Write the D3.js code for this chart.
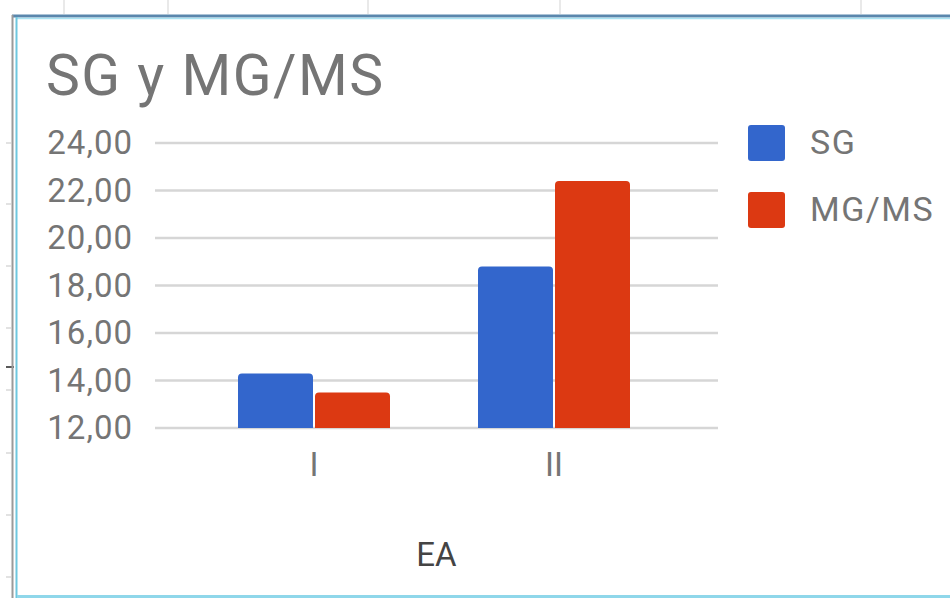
<!DOCTYPE html>
<html>
<head>
<meta charset="utf-8">
<script src="https://cdn.jsdelivr.net/npm/d3@7"></script>
<style>
  html, body { margin: 0; padding: 0; background: #ffffff; }
  svg { display: block; font-family: Roboto, "Noto Sans", sans-serif; }
</style>
</head>
<body>
<svg id="chart" width="950" height="598"></svg>
<script>
// Data
const categories = ["I", "II"];
const seriesNames = ["SG", "MG/MS"];
const sgValues = [14.3, 18.8];
const mgmsValues = [13.5, 22.4];
const yTicks = [12, 14, 16, 18, 20, 22, 24];
const titleText = "SG y MG/MS";
const xAxisTitle = "EA";

const colors = ["#3366cc", "#dc3912"];
const svg = d3.select("#chart");

// Spreadsheet cell lines peeking around the embedded chart
const sheetCols = [64, 168, 368, 560, 861];
svg.selectAll("line.col").data(sheetCols).enter().append("line")
  .attr("x1", d => d).attr("x2", d => d).attr("y1", 0).attr("y2", 14)
  .attr("stroke", "#e2e2e2").attr("stroke-width", 1.5);
const sheetRows = [143, 204, 266, 328, 390, 453, 515, 577];
svg.selectAll("line.row").data(sheetRows).enter().append("line")
  .attr("x1", 6).attr("x2", 11).attr("y1", d => d).attr("y2", d => d)
  .attr("stroke", "#cfcfcf").attr("stroke-width", 1.2);
svg.append("line").attr("x1", 6).attr("x2", 14).attr("y1", 367).attr("y2", 367)
  .attr("stroke", "#222").attr("stroke-width", 1.5);

// Chart frame (selected-object border)
svg.append("line").attr("x1", 12).attr("x2", 950).attr("y1", 16).attr("y2", 16)
  .attr("stroke", "#5a87ad").attr("stroke-width", 3);
svg.append("line").attr("x1", 17).attr("x2", 950).attr("y1", 18.5).attr("y2", 18.5)
  .attr("stroke", "#a9e3f2").attr("stroke-width", 1.5);
svg.append("line").attr("x1", 12.5).attr("x2", 12.5).attr("y1", 15).attr("y2", 598)
  .attr("stroke", "#9a9a9a").attr("stroke-width", 2);
svg.append("line").attr("x1", 16.5).attr("x2", 16.5).attr("y1", 17).attr("y2", 598)
  .attr("stroke", "#6ec7df").attr("stroke-width", 2);
svg.append("line").attr("x1", 17).attr("x2", 950).attr("y1", 596.5).attr("y2", 596.5)
  .attr("stroke", "#8fd7ea").attr("stroke-width", 3);

// Scales
const plotLeft = 155, plotRight = 718;
const y = d3.scaleLinear().domain([12, 24]).range([428, 143]);
const x = d3.scaleBand().domain(categories).range([194, 674]).paddingInner(0).paddingOuter(0);
const inner = d3.scaleBand().domain(seriesNames).range([0, 152]).paddingInner(0.026);
const barOffset = (x.bandwidth() - 152) / 2;

// Title
svg.append("text").attr("x", 46).attr("y", 95)
  .attr("font-size", 57).attr("letter-spacing", 1.5).attr("fill", "#757575").text(titleText);

// Gridlines
svg.append("g").selectAll("line").data(yTicks).enter().append("line")
  .attr("x1", plotLeft).attr("x2", plotRight)
  .attr("y1", d => y(d)).attr("y2", d => y(d))
  .attr("stroke", "#d6d6d6").attr("stroke-width", 2.5);

// Y axis labels
const fmt = d => d3.format(".2f")(d).replace(".", ",");
const yAxis = d3.axisLeft(y).tickValues(yTicks).tickFormat(fmt).tickSize(0).tickPadding(0);
const yg = svg.append("g").attr("transform", "translate(133,0)").call(yAxis);
yg.select(".domain").remove();
yg.selectAll("text").attr("font-size", 33).attr("fill", "#757575")
  .attr("letter-spacing", 1).attr("font-family", "Roboto, sans-serif").attr("dy", "0.32em");

// X axis labels
const xAxis = d3.axisBottom(x).tickSize(0).tickPadding(0);
const xg = svg.append("g").attr("transform", "translate(0,452)").call(xAxis);
xg.select(".domain").remove();
xg.selectAll("text").attr("font-size", 33).attr("fill", "#757575")
  .attr("font-family", "Roboto, sans-serif").attr("dy", "0.72em");

// X axis title
svg.append("text").attr("x", (plotLeft + plotRight) / 2).attr("y", 566)
  .attr("text-anchor", "middle").attr("font-size", 33).attr("fill", "#444")
  .text(xAxisTitle);

// Bars with rounded tops
const rows = categories.map((c, i) => ({ cat: c, values: [sgValues[i], mgmsValues[i]] }));
function barPath(x0, w, yTop, yBase, r) {
  r = Math.min(r, (yBase - yTop) / 2, w / 2);
  return `M${x0},${yBase}V${yTop + r}Q${x0},${yTop} ${x0 + r},${yTop}H${x0 + w - r}Q${x0 + w},${yTop} ${x0 + w},${yTop + r}V${yBase}Z`;
}
const groups = svg.append("g").selectAll("g").data(rows).enter().append("g")
  .attr("transform", d => `translate(${x(d.cat) + barOffset},0)`);
groups.selectAll("path").data(d => d.values.map((v, j) => ({ name: seriesNames[j], v, j })))
  .enter().append("path")
  .attr("d", d => barPath(inner(d.name), inner.bandwidth(), y(d.v), y(12), 4))
  .attr("fill", d => colors[d.j]);

// Legend
const legend = svg.append("g").selectAll("g").data(seriesNames).enter().append("g")
  .attr("transform", (d, i) => `translate(748,${125 + i * 67})`);
legend.append("rect").attr("width", 37).attr("height", 36).attr("rx", 3)
  .attr("fill", (d, i) => colors[i]);
legend.append("text").attr("x", 62).attr("y", 17).attr("dy", "0.35em")
  .attr("font-size", 34).attr("letter-spacing", 1.5).attr("fill", "#757575").text(d => d);
</script>
</body>
</html>
